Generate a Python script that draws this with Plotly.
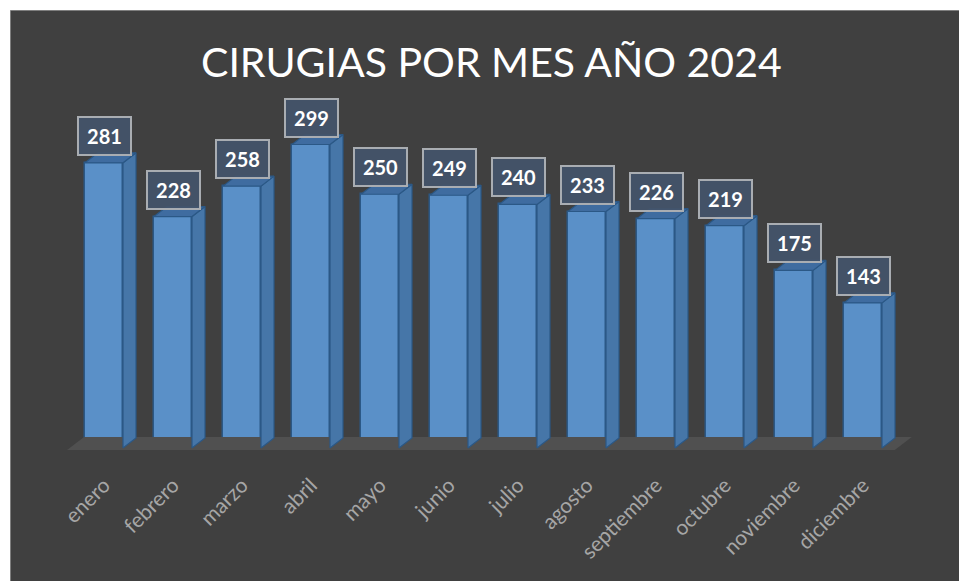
import plotly.graph_objects as go

# ---- data ----
months = ["enero", "febrero", "marzo", "abril", "mayo", "junio", "julio",
          "agosto", "septiembre", "octubre", "noviembre", "diciembre"]
values = [281, 228, 258, 299, 250, 249, 240, 233, 226, 219, 175, 143]
title_text = "CIRUGIAS POR MES AÑO 2024"

# ---- layout geometry (pixels) ----
W, H = 959, 581
ML, MR, MT, MB = 20, 20, 100, 121
PX_PER_CAT = 69.0
X0_PX = 104.0
PX_PER_UNIT = 1.015
BASE_PX = 448.0

plot_w = W - ML - MR
plot_h = H - MT - MB
x_range = [(ML - X0_PX) / PX_PER_CAT, (W - MR - X0_PX) / PX_PER_CAT]
y_range = [(BASE_PX - (H - MB)) / PX_PER_UNIT, (BASE_PX - MT) / PX_PER_UNIT]

def px_x(p):
    return (p - ML) / plot_w

def px_y(p):
    return (H - MB - p) / plot_h

HW = 19.0 / PX_PER_CAT          # half bar width
DX = 13.0 / PX_PER_CAT          # depth offset x
DY = 10.0 / PX_PER_UNIT         # depth offset y

FRONT = "#5a90c8"
SIDE = "#4676a8"
TOP = "#3f6ca0"
EDGE = "#2b5886"

n = len(values)
xs = list(range(n))

fig = go.Figure()

# floor
fl_front = -2.0 / PX_PER_UNIT
fl_back = 11.0 / PX_PER_UNIT
fl_dx = 17.0 / PX_PER_CAT
fl_left = -HW - 0.26
fl_right = (n - 1) + HW + 0.185
fig.add_trace(go.Scatter(
    x=[fl_left, fl_right, fl_right + fl_dx, fl_left + fl_dx, fl_left],
    y=[fl_front, fl_front, fl_back, fl_back, fl_front],
    fill="toself", fillcolor="#505050", line=dict(width=0),
    mode="lines", hoverinfo="skip", showlegend=False))

# side faces
sx, sy = [], []
for i, v in zip(xs, values):
    sx += [i + HW, i + HW + DX, i + HW + DX, i + HW, i + HW, None]
    sy += [0, DY, v + DY, v, 0, None]
fig.add_trace(go.Scatter(x=sx, y=sy, fill="toself", fillcolor=SIDE,
                         line=dict(color=EDGE, width=1.2), mode="lines",
                         hoverinfo="skip", showlegend=False))

# top faces
tx, ty = [], []
for i, v in zip(xs, values):
    tx += [i - HW, i + HW, i + HW + DX, i - HW + DX, i - HW, None]
    ty += [v, v, v + DY, v + DY, v, None]
fig.add_trace(go.Scatter(x=tx, y=ty, fill="toself", fillcolor=TOP,
                         line=dict(color=EDGE, width=1.2), mode="lines",
                         hoverinfo="skip", showlegend=False))

# front faces
fig.add_trace(go.Bar(x=xs, y=values, width=2 * HW,
                     marker=dict(color=FRONT, line=dict(color=EDGE, width=1.5)),
                     hoverinfo="skip", showlegend=False))

annotations = []
for i, v in zip(xs, values):
    annotations.append(dict(
        x=i, y=v, xref="x", yref="y", yanchor="bottom", yshift=7,
        text="<b>%d</b>" % v, showarrow=False,
        font=dict(family="Lato", size=20, color="white"),
        bgcolor="rgba(68,84,106,0.93)", bordercolor="#a9adb2",
        borderwidth=2, borderpad=1, width=49, height=34))

annotations.append(dict(
    x=px_x(491), y=px_y(62), xref="paper", yref="paper",
    xanchor="center", yanchor="middle", text=title_text, showarrow=False,
    font=dict(family="Lato", size=41, color="white")))

shapes = [dict(type="rect", xref="paper", yref="paper", layer="below",
               x0=px_x(10.5), x1=px_x(975), y0=px_y(595), y1=px_y(10.5),
               fillcolor="#404040", line=dict(color="#7f7f7f", width=1))]

fig.update_layout(
    width=W, height=H,
    margin=dict(l=ML, r=MR, t=MT, b=MB, pad=0),
    paper_bgcolor="white", plot_bgcolor="rgba(0,0,0,0)",
    bargap=0, showlegend=False,
    annotations=annotations, shapes=shapes,
    xaxis=dict(range=x_range, tickmode="array", tickvals=xs, ticktext=months,
               tickangle=-45, showgrid=False, zeroline=False, showline=False,
               ticks="", ticklabelstandoff=8,
               tickfont=dict(family="Lato", size=21, color="#a6a6a6"),
               fixedrange=True),
    yaxis=dict(range=y_range, visible=False, showgrid=False, zeroline=False,
               fixedrange=True),
)

fig.write_html(
    "out.html",
    config={"displayModeBar": False},
    post_script="document.body.style.margin='0';document.body.style.overflow='hidden';",
)
